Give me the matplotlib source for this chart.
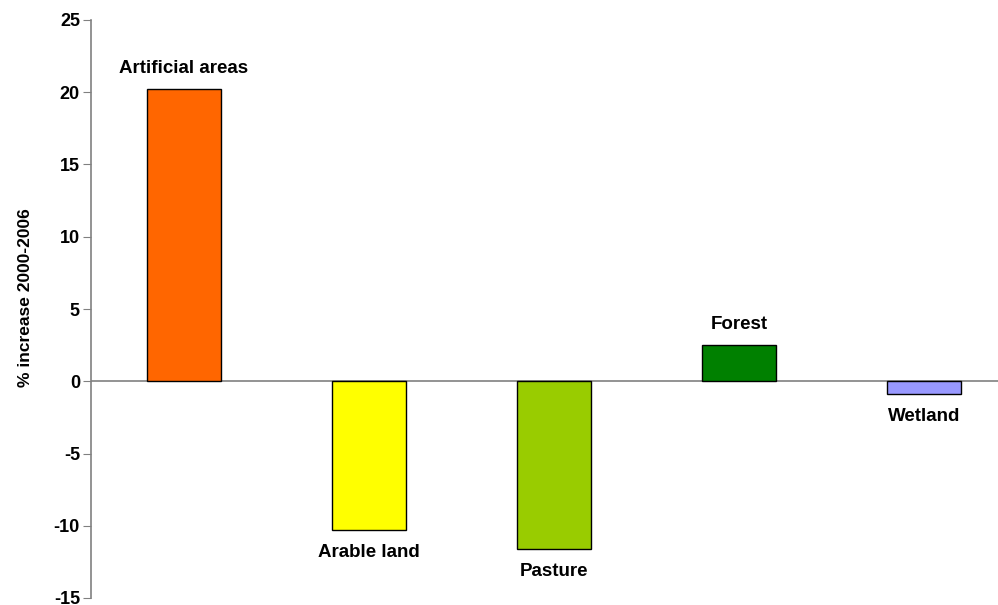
import matplotlib.pyplot as plt

categories = ["Artificial areas", "Arable land", "Pasture", "Forest", "Wetland"]
values = [20.2, -10.3, -11.6, 2.5, -0.9]
colors = ["#FF6600", "#FFFF00", "#99CC00", "#008000", "#9999FF"]

plt.rcParams["font.family"] = ["Liberation Sans", "DejaVu Sans"]
plt.rcParams["font.weight"] = "bold"
plt.rcParams["axes.unicode_minus"] = False

fig = plt.figure(figsize=(9.98, 6.05), dpi=100)
ax = fig.add_axes([91 / 998, 1 - 598 / 605, 1 - 91 / 998, 578 / 605])

x = list(range(len(categories)))
bars = ax.bar(x, values, width=0.4, color=colors, edgecolor="black", linewidth=1.0, zorder=2)

for xi, v, name in zip(x, values, categories):
    off = 15 if v >= 0 else -16
    ax.annotate(name, (xi, v), xytext=(0, off), textcoords="offset points",
                ha="center", va="center", fontsize=13.5, fontweight="bold")

ax.axhline(0, color="#808080", linewidth=1.2, zorder=1)
ax.set_xlim(-0.5, 4.4)
ax.set_ylim(-15, 25)
ax.set_yticks(range(-15, 26, 5))
ax.set_xticks([])
ax.tick_params(axis="y", direction="out", length=6, color="#808080", labelsize=13, pad=2)
for lab in ax.get_yticklabels():
    lab.set_fontweight("bold")

for side in ["top", "right", "bottom"]:
    ax.spines[side].set_visible(False)
ax.spines["left"].set_color("#808080")
ax.spines["left"].set_linewidth(1.2)

ax.set_ylabel("% increase 2000-2006", fontsize=12.5, fontweight="bold")
ax.yaxis.set_label_coords(-0.064, 0.52)

fig.savefig("out.png", dpi=100)
